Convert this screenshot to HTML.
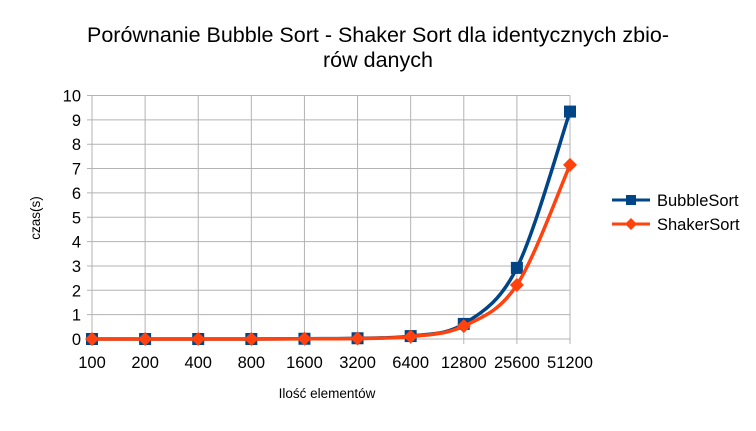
<!DOCTYPE html>
<html><head><meta charset="utf-8"><style>
body{margin:0;background:#fff;font-family:"Liberation Sans",sans-serif}
svg text{font-family:"Liberation Sans",sans-serif}
</style></head><body>
<svg id="c" width="756" height="426">
<text x="378" y="42" font-size="21.5" text-anchor="middle">Porównanie Bubble Sort - Shaker Sort dla identycznych zbio-</text>
<text x="378" y="67" font-size="21.5" text-anchor="middle">rów danych</text>
<text x="327" y="398" font-size="13.5" text-anchor="middle">Ilość elementów</text>
<text transform="translate(40,218) rotate(-90)" font-size="13.5" text-anchor="middle">czas(s)</text>
<g id="grid"></g><g id="series"></g>
<g>
<line x1="612" y1="200" x2="650" y2="200" stroke="#004586" stroke-width="3"/>
<rect x="626" y="195" width="10" height="10" fill="#004586"/>
<text x="657" y="206" font-size="16.5">BubbleSort</text>
<line x1="612" y1="224" x2="650" y2="224" stroke="#ff420e" stroke-width="3"/>
<path d="M631 218 L637 224 L631 230 L625 224Z" fill="#ff420e"/>
<text x="657" y="230" font-size="16.5">ShakerSort</text>
</g>
</svg>
<script>
const categories=["100","200","400","800","1600","3200","6400","12800","25600","51200"];
const bubble=[0,0,0,0,0.01,0.03,0.12,0.62,2.92,9.34];
const shaker=[0,0,0,0,0.01,0.02,0.1,0.53,2.22,7.15];
const yTicks=[0,1,2,3,4,5,6,7,8,9,10];
const NS="http://www.w3.org/2000/svg";
const x0=92,x1=570,y0=339,y1=95.5;
const X=i=>x0+i*(x1-x0)/(categories.length-1);
const Y=v=>y0-v*(y0-y1)/10;
const grid=document.getElementById('grid'),ser=document.getElementById('series');
function mk(tag,attrs,parent){const e=document.createElementNS(NS,tag);for(const k in attrs)e.setAttribute(k,attrs[k]);parent.appendChild(e);return e;}
yTicks.forEach(t=>{
 const l=mk('line',{x1:x0-5,x2:x1,y1:Y(t),y2:Y(t),stroke:'#b3b3b3','stroke-width':1},grid);
 
 
 const tx=mk('text',{x:x0-11,y:Y(t)+6,'font-size':16.5,'text-anchor':'end'},grid);tx.textContent=t;
 
 
});
categories.forEach((c,i)=>{
 const l=mk('line',{x1:X(i),x2:X(i),y1:y1,y2:y0+5,stroke:'#b3b3b3','stroke-width':1},grid);
 
 
 const tx=mk('text',{x:X(i),y:y0+29,'font-size':16.5,'text-anchor':'middle'},grid);tx.textContent=c;
 
 
});
function path(vals){const p=vals.map((v,i)=>[X(i),Y(v)]);let d=`M${p[0][0]},${p[0][1]}`;
 for(let i=0;i<p.length-1;i++){const a=p[Math.max(0,i-1)],b=p[i],c=p[i+1],e=p[Math.min(p.length-1,i+2)];
 d+=` C${b[0]+(c[0]-a[0])/6},${b[1]+(c[1]-a[1])/6} ${c[0]-(e[0]-b[0])/6},${c[1]-(e[1]-b[1])/6} ${c[0]},${c[1]}`;}return d;}
[[bubble,'#004586','bubble'],[shaker,'#ff420e','shaker']].forEach(([vals,col,n])=>{
 const pl=mk('path',{d:path(vals),fill:'none',stroke:col,'stroke-width':3.5},ser);
 
 
 vals.forEach((v,i)=>{let m;
  if(n==='bubble')m=mk('rect',{x:X(i)-6,y:Y(v)-6,width:12,height:12,fill:col},ser);
  else m=mk('path',{d:`M${X(i)} ${Y(v)-7}L${X(i)+7} ${Y(v)}L${X(i)} ${Y(v)+7}L${X(i)-7} ${Y(v)}Z`,fill:col},ser);
  
  
 });
});
</script>
</body></html>
